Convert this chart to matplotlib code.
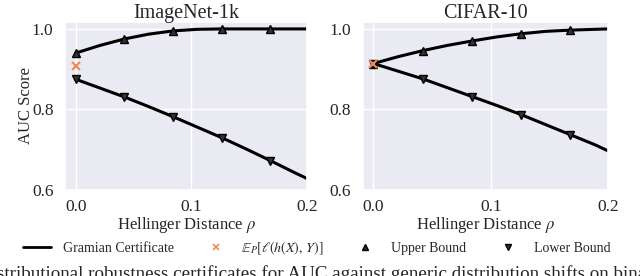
import matplotlib
matplotlib.use("Agg")
import matplotlib.pyplot as plt
from matplotlib.lines import Line2D
import seaborn as sns

sns.set_theme(style="darkgrid")
plt.rcParams["font.family"] = ["Liberation Serif", "DejaVu Serif"]
plt.rcParams["mathtext.fontset"] = "stix"

## values
rho = [0.0, 0.021, 0.042, 0.063, 0.084, 0.105, 0.126, 0.147, 0.168, 0.189, 0.2]

imnet_upper = [0.940, 0.959, 0.975, 0.987, 0.995, 0.999, 1.000, 1.000, 1.000, 1.000, 1.000]
imnet_lower = [0.875, 0.853, 0.831, 0.807, 0.782, 0.756, 0.730, 0.702, 0.673, 0.643, 0.628]
imnet_emp = 0.907

cifar_upper = [0.914, 0.931, 0.946, 0.959, 0.970, 0.980, 0.988, 0.994, 0.997, 0.999, 1.000]
cifar_lower = [0.914, 0.895, 0.876, 0.854, 0.832, 0.810, 0.787, 0.762, 0.737, 0.712, 0.697]
cifar_emp = 0.914

titles = ["ImageNet-1k", "CIFAR-10"]
xticks = [0.0, 0.1, 0.2]
yticks = [0.6, 0.8, 1.0]

fig = plt.figure(figsize=(6.4, 2.76), dpi=100)
ax1 = fig.add_axes([0.102, 0.312, 0.378, 0.608])
ax2 = fig.add_axes([0.567, 0.312, 0.383, 0.608])

orange = "#ee8a58"
for ax, up, lo, emp, title in [(ax1, imnet_upper, imnet_lower, imnet_emp, titles[0]),
                               (ax2, cifar_upper, cifar_lower, cifar_emp, titles[1])]:
    ax.plot(rho, up, color="black", lw=2.2, marker="^", markersize=5.5,
            markerfacecolor="#333333", markeredgecolor="black", markevery=[0, 2, 4, 6, 8])
    ax.plot(rho, lo, color="black", lw=2.2, marker="v", markersize=5.5,
            markerfacecolor="#333333", markeredgecolor="black", markevery=[0, 2, 4, 6, 8])
    ax.plot([0.0], [emp], ls="none", marker="x", color=orange, markersize=6, mew=1.5)
    ax.set_xlim(-0.009, 0.2)
    ax.set_ylim(0.6, 1.017)
    ax.set_xticks(xticks)
    ax.set_yticks(yticks)
    ax.set_xticklabels(["%.1f" % t for t in xticks])
    ax.set_yticklabels(["%.1f" % t for t in yticks])
    ax.tick_params(labelsize=12.5)
    ax.tick_params(axis="x", pad=0.5)
    ax.tick_params(axis="y", pad=2.5)
    ax.set_title(title, fontsize=14.5, pad=3)
    ax.set_xlabel(r"Hellinger Distance $\rho$", fontsize=12, labelpad=0)

ax1.set_ylabel("AUC Score", fontsize=12, labelpad=-1.5)

handles = [
    Line2D([], [], color="black", lw=2),
    Line2D([], [], ls="none", marker="x", color=orange, markersize=5, mew=1.2),
    Line2D([], [], ls="none", marker="^", color="#333333", markeredgecolor="black", markersize=4.5),
    Line2D([], [], ls="none", marker="v", color="#333333", markeredgecolor="black", markersize=4.5),
]
labels = ["Gramian Certificate", r"$\mathbb{E}_P[\ell(h(X),\,Y)]$", "Upper Bound", "Lower Bound"]
fig.legend(handles, labels, loc="center", bbox_to_anchor=(0.495, 0.101), ncol=4,
           frameon=False, fontsize=10, handlelength=2.0, handletextpad=0.85,
           columnspacing=2.0, borderpad=0.2)

fig.text(-0.034, 0.040, "Distributional robustness certificates for AUC against generic distribution shifts on binary",
         fontsize=13.7, va="top", ha="left")

fig.savefig("out.png", dpi=100)
